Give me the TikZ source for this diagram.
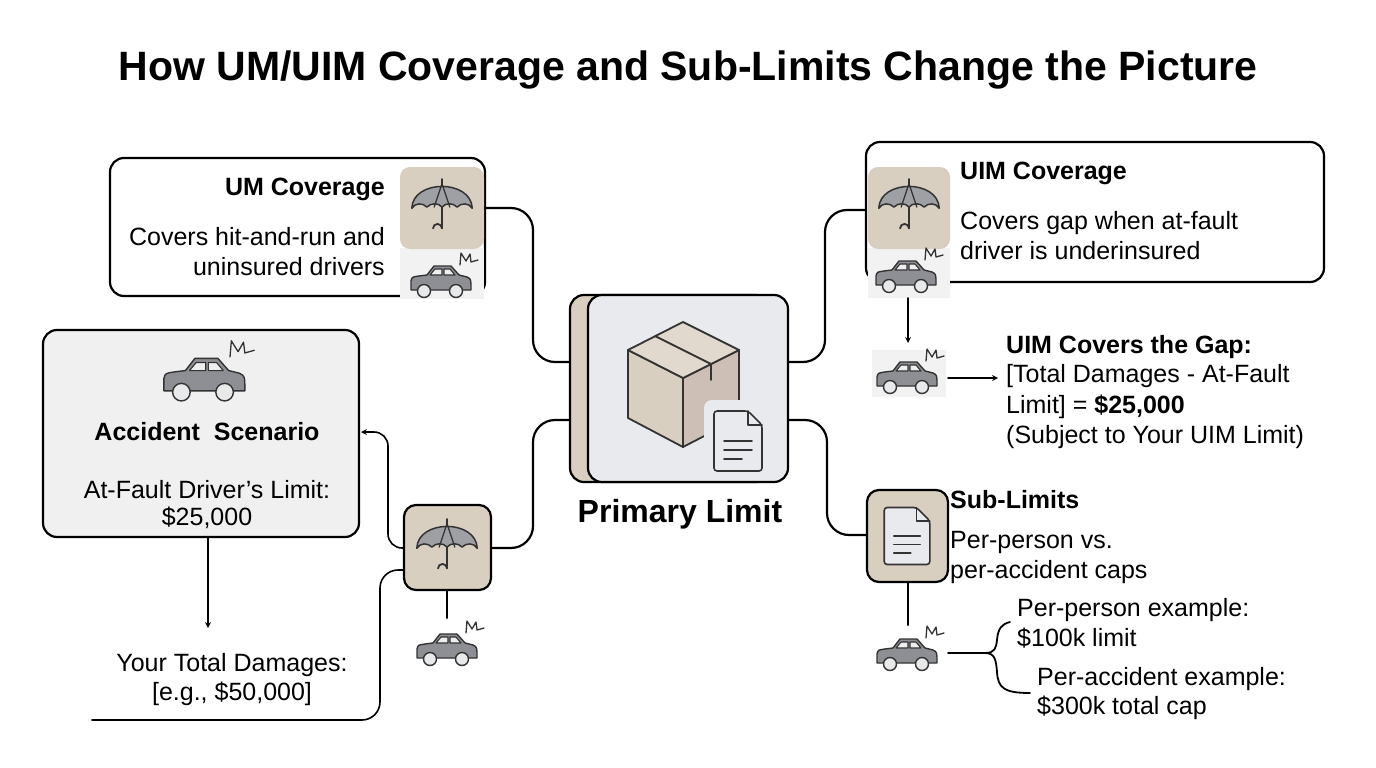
\documentclass[tikz,border=0pt]{standalone}
\usepackage{fontspec}
\setmainfont{Liberation Sans}
\begin{document}
\definecolor{beige}{HTML}{D9CFC0}
\definecolor{beiged}{HTML}{CDBFB5}
\definecolor{pale}{HTML}{E8EAEE}
\definecolor{grayc}{HTML}{8E8F94}
\definecolor{ink}{HTML}{333333}
\begin{tikzpicture}[x=1pt,y=-1pt,line join=round,line cap=round,
  box/.style={draw=black,line width=2.2pt,rounded corners=14pt},
  conn/.style={draw=black,line width=2.2pt,rounded corners=22pt},
  arr/.style={draw=black,line width=1.6pt,-stealth},
  txt/.style={font=\fontsize{25}{30}\selectfont,inner sep=0pt},
  btxt/.style={font=\fontsize{25}{30}\selectfont\bfseries,inner sep=0pt},
  car/.pic={
    \draw[ink,line width=1.4pt,fill=grayc] (-29,8) -- (-29,-1) .. controls (-28,-5) .. (-21,-6) -- (-13,-7) -- (-6,-16) -- (11,-16) -- (19,-7) -- (27,-5) .. controls (31,-3) .. (31,8) -- cycle;
    \draw[ink,line width=1.1pt,fill=white!85!grayc] (-10,-7) -- (-5,-13) -- (2,-13) -- (2,-7) -- cycle (4,-7) -- (4,-13) -- (10,-13) -- (15,-7) -- cycle;
    \draw[ink,line width=1.4pt,fill=white!80!grayc] (-16,9) circle (6.5) (16,9) circle (6.5);
    \draw[ink,line width=1.3pt] (20,-17) -- (21,-29) -- (26,-21) -- (30,-28) -- (31,-20) -- (38,-22);
  },
  umb/.pic={
    \begin{scope}[scale=1.12]
    \draw[ink,line width=1.5pt,fill=grayc!85] (-27,2) .. controls (-26,-24) and (26,-24) .. (27,2)
      .. controls (24,-3) and (17,-3) .. (13.5,1) .. controls (10,-3) and (3,-3) .. (0,1)
      .. controls (-3,-3) and (-10,-3) .. (-13.5,1) .. controls (-17,-3) and (-24,-3) .. (-27,2) -- cycle;
    \draw[ink,line width=1.3pt] (0,-20) -- (-7,1) (0,-20) -- (7,1);
    \draw[ink,line width=1.8pt] (0,-24) -- (0,-20) (0,1) -- (0,20) arc (0:-180:4);
    \end{scope}
  },
  doc/.pic={
    \draw[ink,line width=1.6pt,fill=pale,rounded corners=3pt] (-24,-30) -- (10,-30) -- (24,-16) -- (24,30) -- (-24,30) -- cycle;
    \draw[ink,line width=1.6pt] (10,-30) -- (10,-16) -- (24,-16);
    \draw[ink,line width=1.6pt] (-14,0) -- (14,0) (-14,9) -- (14,9) (-14,18) -- (4,18);
  }]
\useasboundingbox (0,0) rectangle (1376,768);
\node[font=\fontsize{41}{48}\selectfont\bfseries] (title) at (688,70) {How UM/UIM Coverage and Sub-Limits Change the Picture};

% UM box
\draw[box,fill=white] (110,158) rectangle (485,296);
\node[btxt,anchor=east] (umt) at (385,189) {UM Coverage};
\node[txt,anchor=east,align=right] (umd) at (385,252) {Covers hit-and-run and\\uninsured drivers};
\fill[black!5] (400,248) rectangle (484,299);
\path[fill=beige,rounded corners=10pt] (400,167) rectangle (484,249);
\node[inner sep=0pt,minimum size=82pt] (umtile) at (442,208) {};
\pic at (442,206) {umb};
\pic at (440,282) {car};

% UIM box
\draw[box,fill=white] (866,142) rectangle (1324,282);
\fill[black!5] (868,248) rectangle (950,298);
\path[fill=beige,rounded corners=10pt] (868,167) rectangle (950,249);
\node[inner sep=0pt,minimum size=82pt] (uimtile) at (909,208) {};
\pic at (909,206) {umb};
\pic at (905,277) {car};
\node[btxt,anchor=west] (uimt) at (960,173) {UIM Coverage};
\node[txt,anchor=west,align=left] (uimd) at (960,236) {Covers gap when at-fault\\driver is underinsured};

% center
\draw[box,fill=beige] (570,295) rectangle (770,482);
\draw[box,fill=pale] (588,295) rectangle (788,482);
\node[inner sep=0pt,minimum width=200pt,minimum height=187pt] (center) at (688,388) {};
\draw[ink,line width=1.8pt,fill=beige] (628,350) -- (683,378) -- (683,447) -- (628,418) -- cycle;
\draw[ink,line width=1.8pt,fill=beiged] (683,378) -- (739,350) -- (739,418) -- (683,447) -- cycle;
\draw[ink,line width=1.8pt,fill=beige!80!white] (683,322) -- (739,350) -- (683,378) -- (628,350) -- cycle;
\draw[ink,line width=1.8pt] (655,336) -- (711,364) -- (711,380);
\fill[pale,rounded corners=8pt] (704,400) rectangle (775,478);
\pic at (738,441) {doc};
\node[font=\fontsize{32}{38}\selectfont\bfseries] (pl) at (680,514) {Primary Limit};

% connectors
\draw[conn] (485,208) -- (533,208) -- (533,362) -- (570,362);
\draw[conn] (866,210) -- (825,210) -- (825,362) -- (788,362);

% bottom-left umbrella
\draw[box,rounded corners=12pt,fill=beige] (404,505) rectangle (491,590);
\node[inner sep=0pt,minimum size=85pt] (btile) at (447,548) {};
\pic at (447,546) {umb};
\draw[conn] (491,548) -- (533,548) -- (533,420) -- (570,420);
\draw[line width=2pt] (447,590) -- (447,618);
\pic at (446,650) {car};

% accident box
\draw[box,fill=black!6] (43,330) rectangle (359,537);
\pic[scale=1.35] at (203,380) {car};
\node[btxt] (acc) at (207,432) {Accident\ \ Scenario};
\node[txt] (afl) at (207,490) {At-Fault Driver's Limit:};
\node[txt] (afv) at (207,518) {\$25,000};
\draw[line width=1.6pt,rounded corners=14pt,-stealth] (404,548) -- (388,548) -- (388,432) -- (361,432);
\draw[arr] (208,538) -- (208,628);
\node[txt] (td1) at (232,665) {Your Total Damages:};
\node[txt] (td2) at (232,694) {[e.g., \$50,000]};
\draw[line width=1.6pt,rounded corners=18pt] (92,720) -- (380,720) -- (380,570) -- (404,570);

% UIM gap
\draw[arr] (908,298) -- (908,343);
\fill[black!5] (872,350) rectangle (946,397);
\pic at (906,378) {car};
\draw[arr] (948,378) -- (998,378);
\node[btxt,anchor=west] (g1) at (1006,347) {UIM Covers the Gap:};
\node[txt,anchor=west] (g2) at (1006,376) {[Total Damages - At-Fault};
\node[txt,anchor=west] (g3) at (1006,407) {Limit] = \textbf{\$25,000}};
\node[txt,anchor=west] (g4) at (1006,437) {(Subject to Your UIM Limit)};

% sub-limits
\draw[box,rounded corners=12pt,fill=beige] (867,490) rectangle (948,582);
\node[inner sep=0pt,minimum width=81pt,minimum height=92pt] (stile) at (907,536) {};
\pic[scale=0.95] at (907,536) {doc};
\draw[conn] (788,420) -- (827,420) -- (827,535) -- (867,535);
\node[btxt,anchor=west] (s1) at (950,500) {Sub-Limits};
\node[txt,anchor=west] (s2) at (950,542) {Per-person vs.};
\node[txt,anchor=west] (s3) at (950,572) {per-accident caps};
\draw[line width=2pt] (908,582) -- (908,625);
\pic at (906,655) {car};
\draw[line width=1.8pt] (948,653) -- (985,653) .. controls (995,653) and (996,648) .. (997,640) .. controls (998,628) and (1002,624) .. (1010,622);
\draw[line width=1.8pt] (985,653) .. controls (995,653) and (996,660) .. (997,672) .. controls (998,688) and (1004,693) .. (1030,693);
\node[txt,anchor=west] (p1) at (1017,610) {Per-person example:};
\node[txt,anchor=west] (p2) at (1017,638) {\$100k limit};
\node[txt,anchor=west] (p3) at (1037,679) {Per-accident example:};
\node[txt,anchor=west] (p4) at (1037,708) {\$300k total cap};
\end{tikzpicture}
\end{document}
